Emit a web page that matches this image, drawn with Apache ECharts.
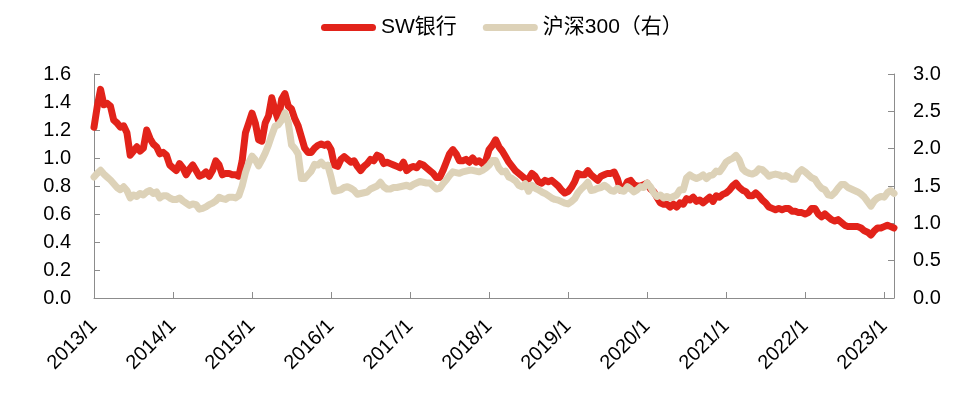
<!DOCTYPE html>
<html><head><meta charset="utf-8">
<script src="https://cdn.jsdelivr.net/npm/echarts@6/dist/echarts.min.js"></script>
<style>html,body{margin:0;padding:0;background:#fff}#c{width:972px;height:397px}</style>
</head><body><div id="c"></div>
<script>
// Semimonthly observation dates (1st and 16th of each month), Jan 2013 – Feb 2023
const dates = [];
(function(){
  for (let y = 2013; y <= 2023; y++) {
    for (let m = 1; m <= 12; m++) {
      for (const d of [1, 16]) {
        if (dates.length < 244) dates.push(y + '-' + String(m).padStart(2,'0') + '-' + String(d).padStart(2,'0'));
      }
    }
  }
})();

const seriesNames = ['SW银行', '沪深300（右）'];

// SW银行 (left axis)
const bankValues = [
  1.22,1.37,1.49,1.38,1.39,1.37,1.27,1.25,1.22,1.23,1.18,1.02,1.05,1.08,1.05,1.07,1.20,1.14,1.10,1.08,1.03,1.04,1.02,0.95,
  0.93,0.91,0.96,0.93,0.88,0.92,0.95,0.91,0.87,0.88,0.90,0.87,0.91,0.98,0.95,0.88,0.89,0.89,0.88,0.88,0.87,0.98,1.18,1.25,
  1.32,1.25,1.13,1.12,1.25,1.30,1.43,1.34,1.27,1.42,1.46,1.37,1.35,1.28,1.23,1.15,1.07,1.04,1.04,1.07,1.09,1.10,1.09,1.10,
  1.06,0.95,0.94,0.99,1.01,0.99,0.97,0.98,0.94,0.91,0.94,0.96,0.99,0.98,1.02,1.01,0.96,0.97,0.96,0.95,0.94,0.93,0.97,0.91,
  0.93,0.94,0.93,0.96,0.95,0.93,0.91,0.89,0.86,0.86,0.91,0.97,1.03,1.06,1.03,0.98,0.98,0.99,0.97,1.00,0.97,0.98,0.96,0.98,
  1.06,1.09,1.13,1.08,1.05,1.01,0.97,0.94,0.91,0.89,0.87,0.85,0.85,0.89,0.87,0.83,0.82,0.84,0.83,0.84,0.82,0.80,0.77,0.75,
  0.76,0.79,0.83,0.89,0.88,0.88,0.91,0.88,0.86,0.84,0.87,0.88,0.89,0.89,0.90,0.85,0.77,0.78,0.83,0.84,0.81,0.80,0.80,0.81,
  0.82,0.78,0.76,0.72,0.68,0.67,0.67,0.65,0.67,0.65,0.68,0.67,0.71,0.70,0.72,0.69,0.70,0.68,0.70,0.72,0.69,0.73,0.72,0.74,
  0.75,0.77,0.80,0.82,0.79,0.77,0.76,0.73,0.73,0.75,0.73,0.70,0.68,0.65,0.64,0.63,0.64,0.63,0.64,0.64,0.62,0.62,0.61,0.61,
  0.60,0.61,0.64,0.64,0.60,0.58,0.60,0.58,0.56,0.55,0.56,0.54,0.52,0.51,0.51,0.51,0.51,0.50,0.48,0.47,0.45,0.48,0.50,0.50,
  0.51,0.52,0.51,0.50
];

// 沪深300 (right axis)
const hs300Values = [
  1.62,1.67,1.71,1.66,1.62,1.58,1.53,1.48,1.45,1.49,1.44,1.34,1.38,1.36,1.40,1.38,1.42,1.44,1.40,1.42,1.34,1.37,1.37,1.34,
  1.32,1.32,1.34,1.30,1.27,1.24,1.26,1.25,1.19,1.20,1.22,1.25,1.27,1.30,1.35,1.33,1.32,1.35,1.35,1.34,1.37,1.50,1.68,1.81,
  1.90,1.85,1.77,1.85,1.94,2.05,2.18,2.30,2.32,2.38,2.48,2.35,2.05,2.00,1.93,1.60,1.60,1.65,1.70,1.79,1.78,1.82,1.77,1.78,
  1.62,1.43,1.44,1.45,1.48,1.49,1.47,1.44,1.39,1.40,1.41,1.42,1.46,1.48,1.50,1.55,1.49,1.46,1.46,1.48,1.48,1.49,1.50,1.51,
  1.49,1.52,1.54,1.56,1.55,1.54,1.54,1.50,1.46,1.47,1.53,1.58,1.64,1.69,1.68,1.67,1.69,1.70,1.71,1.71,1.70,1.69,1.71,1.74,
  1.78,1.84,1.84,1.74,1.69,1.70,1.62,1.60,1.57,1.51,1.49,1.53,1.43,1.51,1.47,1.45,1.42,1.40,1.37,1.34,1.32,1.31,1.29,1.27,
  1.26,1.29,1.33,1.41,1.46,1.50,1.55,1.44,1.45,1.47,1.48,1.51,1.48,1.44,1.43,1.47,1.44,1.43,1.49,1.46,1.42,1.45,1.49,1.48,
  1.54,1.49,1.41,1.36,1.38,1.34,1.36,1.34,1.36,1.38,1.45,1.45,1.61,1.65,1.62,1.60,1.62,1.65,1.60,1.64,1.65,1.70,1.69,1.75,
  1.82,1.85,1.87,1.91,1.85,1.73,1.69,1.67,1.66,1.68,1.73,1.72,1.68,1.63,1.65,1.66,1.65,1.63,1.64,1.62,1.59,1.59,1.68,1.72,
  1.69,1.65,1.61,1.59,1.52,1.47,1.45,1.38,1.37,1.41,1.47,1.52,1.52,1.48,1.46,1.44,1.42,1.39,1.35,1.29,1.23,1.30,1.34,1.36,
  1.35,1.41,1.44,1.40
];

const leftTicks = { min: 0, max: 1.6, interval: 0.2 };
const rightTicks = { min: 0, max: 3.0, interval: 0.5 };

function toYear(s) {
  const [y, m, d] = s.split('-').map(Number);
  return y + (m - 1) / 12 + (d > 1 ? 1 / 24 : 0);
}
const xs = dates.map(toYear);
const xMin = 2013;
const xMax = xs[xs.length - 1];

const FONT = '"Liberation Sans", Arial, "Noto Sans CJK SC", sans-serif';
const AXIS_COLOR = '#8c8c8c';
const RED = '#E2231A';
const BEIGE = '#DDD2B8';

const chart = echarts.init(document.getElementById('c'), null, { renderer: 'canvas' });
chart.setOption({
  animation: false,
  backgroundColor: '#fff',
  textStyle: { fontFamily: FONT },
  grid: { left: 94, right: 78, top: 74, bottom: 99, containLabel: false },
  legend: {
    top: 12,
    left: 316,
    itemWidth: 55,
    itemHeight: 7,
    itemGap: 26,
    icon: 'path://M3.5,0 H51.5 A3.5,3.5 0 0 1 51.5,7 H3.5 A3.5,3.5 0 0 1 3.5,0 Z',
    textStyle: { fontSize: 21, color: '#000', fontFamily: FONT },
    data: seriesNames
  },
  xAxis: {
    type: 'value',
    min: xMin,
    max: xMax,
    interval: 1,
    splitLine: { show: false },
    axisLine: { show: true, lineStyle: { color: AXIS_COLOR, width: 1 } },
    axisTick: { show: true, inside: true, length: 6, lineStyle: { color: AXIS_COLOR } },
    axisLabel: {
      rotate: 45,
      margin: 25,
      fontSize: 20,
      color: '#000',
      fontFamily: FONT,
      showMaxLabel: false,
      formatter: v => Math.abs(v - Math.round(v)) < 1e-6 ? Math.round(v) + '/1' : ''
    }
  },
  yAxis: [
    {
      type: 'value', position: 'left',
      min: leftTicks.min, max: leftTicks.max, interval: leftTicks.interval,
      splitLine: { show: false },
      axisLine: { show: true, lineStyle: { color: AXIS_COLOR, width: 1 } },
      axisTick: { show: true, inside: true, length: 6, lineStyle: { color: AXIS_COLOR } },
      axisLabel: { fontSize: 20, color: '#000', margin: 23, fontFamily: FONT, formatter: v => v.toFixed(1) }
    },
    {
      type: 'value', position: 'right',
      min: rightTicks.min, max: rightTicks.max, interval: rightTicks.interval,
      splitLine: { show: false },
      axisLine: { show: true, lineStyle: { color: AXIS_COLOR, width: 1 } },
      axisTick: { show: true, inside: true, length: 6, lineStyle: { color: AXIS_COLOR } },
      axisLabel: { fontSize: 20, color: '#000', margin: 19, fontFamily: FONT, formatter: v => v.toFixed(1) }
    }
  ],
  series: [
    {
      name: seriesNames[0], type: 'line', yAxisIndex: 0,
      data: xs.map((x, i) => [x, bankValues[i]]),
      symbol: 'none', smooth: false,
      itemStyle: { color: RED },
      lineStyle: { color: RED, width: 7, cap: 'round', join: 'round' }
    },
    {
      name: seriesNames[1], type: 'line', yAxisIndex: 1,
      data: xs.map((x, i) => [x, hs300Values[i]]),
      symbol: 'none', smooth: false,
      itemStyle: { color: BEIGE },
      lineStyle: { color: BEIGE, width: 7, cap: 'round', join: 'round' }
    }
  ]
});
</script></body></html>
